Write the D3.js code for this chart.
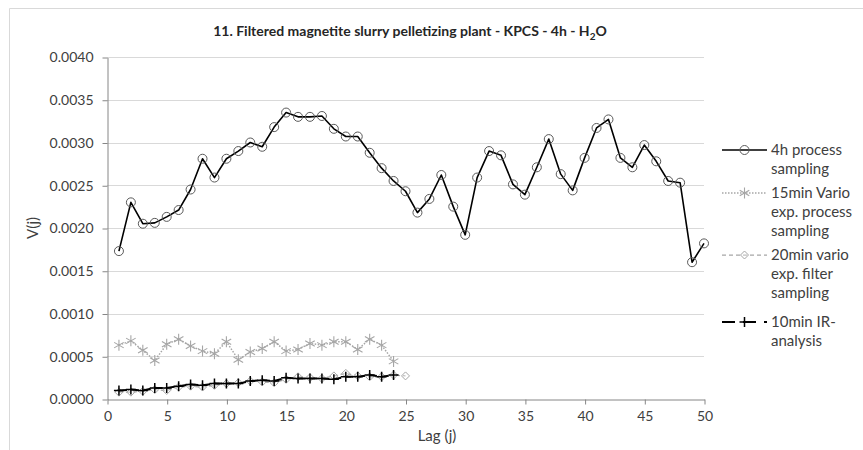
<!DOCTYPE html>
<html>
<head>
<meta charset="utf-8">
<script src="https://cdn.jsdelivr.net/npm/d3@7"></script>
<style>
  html, body { margin: 0; padding: 0; background: #fff; }
  svg { display: block; font-family: "Lato", "Open Sans", sans-serif; }
</style>
</head>
<body>
<svg id="chart" width="863" height="450"></svg>
<script>
// Lag values 1..50 and variogram values V(j)
const lags = d3.range(1, 51);

const process4h = [0.00173, 0.00230, 0.00205, 0.00206, 0.00213, 0.00221, 0.00245, 0.00281, 0.00259, 0.00281,
                   0.00290, 0.00300, 0.00295, 0.00318, 0.00335, 0.00330, 0.00330, 0.00331, 0.00316, 0.00307,
                   0.00307, 0.00288, 0.00270, 0.00255, 0.00243, 0.00218, 0.00234, 0.00262, 0.00225, 0.00192,
                   0.00259, 0.00290, 0.00285, 0.00251, 0.00239, 0.00271, 0.00304, 0.00263, 0.00244, 0.00282,
                   0.00317, 0.00327, 0.00282, 0.00271, 0.00297, 0.00278, 0.00255, 0.00253, 0.00160, 0.00182];

const vario15min = [0.00063, 0.00068, 0.00057, 0.00045, 0.00064, 0.00070, 0.00062, 0.00056, 0.00053, 0.00067,
                    0.00046, 0.00055, 0.00059, 0.00067, 0.00056, 0.00058, 0.00065, 0.00063, 0.00067, 0.00067,
                    0.00058, 0.00070, 0.00063, 0.00044];

const filter20min = [0.00008, 0.00008, 0.00009, 0.00011, 0.00010, 0.00014, 0.00015, 0.00014, 0.00016, 0.00018,
                     0.00019, 0.00021, 0.00020, 0.00019, 0.00023, 0.00026, 0.00025, 0.00024, 0.00027, 0.00030,
                     0.00027, 0.00026, 0.00026, 0.00028, 0.00027];

const ir10min = [0.00010, 0.00011, 0.00010, 0.00013, 0.00013, 0.00015, 0.00017, 0.00016, 0.00018, 0.00018,
                 0.00018, 0.00021, 0.00022, 0.00021, 0.00025, 0.00024, 0.00024, 0.00024, 0.00023, 0.00026,
                 0.00026, 0.00028, 0.00026, 0.00028];

const seriesNames = [["4h process", "sampling"],
                     ["15min Vario", "exp. process", "sampling"],
                     ["20min vario", "exp. filter", "sampling"],
                     ["10min IR-", "analysis"]];

const xTicks = d3.range(0, 51, 5);
const yTicks = d3.range(0, 9).map(i => i * 0.0005);

const svg = d3.select("#chart");

// Chart frame (only top and left edges fall inside the canvas)
svg.append("path")
  .attr("d", "M9.5,450 V8.5 H863")
  .attr("fill", "none").attr("stroke", "#d9d9d9").attr("stroke-width", 1);

const x = d3.scaleLinear().domain([0, 50]).range([107, 704]);
const y = d3.scaleLinear().domain([0, 0.004]).range([399, 57]);

// Horizontal gridlines
svg.append("g").selectAll("line")
  .data(yTicks.filter(t => t > 0))
  .join("line")
  .attr("x1", x(0)).attr("x2", x(50))
  .attr("y1", d => Math.round(y(d)) + 0.5).attr("y2", d => Math.round(y(d)) + 0.5)
  .attr("stroke", "#d9d9d9").attr("stroke-width", 1);

// Axes
const yAxis = svg.append("g")
  .attr("transform", `translate(${x(0) + 0.5},0.5)`)
  .call(d3.axisLeft(y).tickValues(yTicks).tickFormat(d3.format(".4f")).tickSize(5).tickPadding(9).tickSizeOuter(0));
const xAxis = svg.append("g")
  .attr("transform", `translate(0.5,${y(0) + 0.5})`)
  .call(d3.axisBottom(x).tickValues(xTicks).tickSize(5).tickPadding(7).tickSizeOuter(0));

[yAxis, xAxis].forEach(g => {
  g.select(".domain").attr("stroke", "#868686");
  g.selectAll(".tick line").attr("stroke", "#868686");
  g.selectAll(".tick text").attr("fill", "#404040").style("font-size", "14px").style("font-family", "Lato, sans-serif");
});

// Title
const title = svg.append("text")
  .attr("x", 410).attr("y", 36)
  .attr("text-anchor", "middle")
  .style("font-size", "14px").style("font-weight", "bold").attr("fill", "#262626");
title.append("tspan").text("11. Filtered magnetite slurry pelletizing plant - KPCS - 4h - H");
title.append("tspan").text("2").style("font-size", "10px").attr("dy", 4);
title.append("tspan").text("O").attr("dy", -4);

// Axis titles
svg.append("text")
  .attr("transform", `translate(38,${(y(0) + y(0.004)) / 2}) rotate(-90)`)
  .attr("text-anchor", "middle")
  .style("font-size", "15px").attr("fill", "#404040")
  .text("V(j)");
svg.append("text")
  .attr("x", 437).attr("y", 441)
  .attr("text-anchor", "middle")
  .style("font-size", "15px").attr("fill", "#404040")
  .text("Lag (j)");

// Marker painters
function circleMarker(g, cx, cy) {
  g.append("circle").attr("cx", cx).attr("cy", cy).attr("r", 4.5)
    .attr("fill", "none").attr("stroke", "#595959").attr("stroke-width", 1);
}
function starMarker(g, cx, cy) {
  const r = 5.5, c = "#a6a6a6";
  const p = `M${cx - r * 0.87},${cy - r * 0.5}L${cx + r * 0.87},${cy + r * 0.5}` +
            `M${cx - r * 0.87},${cy + r * 0.5}L${cx + r * 0.87},${cy - r * 0.5}` +
            `M${cx},${cy - r}L${cx},${cy + r}`;
  g.append("path").attr("d", p).attr("stroke", c).attr("stroke-width", 1.1).attr("fill", "none");
}
function diamondMarker(g, cx, cy) {
  const r = 4;
  g.append("path").attr("d", `M${cx},${cy - r}L${cx + r},${cy}L${cx},${cy + r}L${cx - r},${cy}Z`)
    .attr("fill", "#fff").attr("fill-opacity", 0.3).attr("stroke", "#a6a6a6").attr("stroke-width", 1);
}
function plusMarker(g, cx, cy) {
  const r = 5;
  g.append("path").attr("d", `M${cx - r},${cy}H${cx + r}M${cx},${cy - r}V${cy + r}`)
    .attr("stroke", "#000").attr("stroke-width", 1.5).attr("fill", "none");
}

const series = [
  { values: process4h, stroke: "#000", width: 1.6, dash: null, marker: circleMarker },
  { values: vario15min, stroke: "#a6a6a6", width: 1.5, dash: "1.5,1.5", marker: starMarker },
  { values: filter20min, stroke: "#a6a6a6", width: 1.25, dash: "4,3", marker: diamondMarker },
  { values: ir10min, stroke: "#000", width: 2, dash: "8,4", marker: plusMarker }
];

const line = d3.line().x(d => x(d[0])).y(d => y(d[1]));

// Draw the low-level series first, the 4h process line last
[1, 2, 3, 0].forEach(i => {
  const s = series[i];
  const pts = s.values.map((v, k) => [lags[k], v]);
  const g = svg.append("g");
  g.append("path").datum(pts).attr("d", line)
    .attr("fill", "none").attr("stroke", s.stroke).attr("stroke-width", s.width)
    .attr("stroke-dasharray", s.dash).attr("stroke-linejoin", "round");
  pts.forEach(p => s.marker(g, x(p[0]), y(p[1])));
});

// Legend
const legendY = [150, 193, 255, 322];
const lineH = 19;
series.forEach((s, i) => {
  const g = svg.append("g");
  const ly = legendY[i];
  g.append("line").attr("x1", 722).attr("x2", 767).attr("y1", ly).attr("y2", ly)
    .attr("stroke", s.stroke).attr("stroke-width", s.width)
    .attr("stroke-dasharray", i === 3 ? "13,8" : s.dash);
  s.marker(g, 744.5, ly);
  const t = g.append("text").attr("x", 771).attr("y", ly)
    .style("font-size", "15px").attr("fill", "#404040");
  seriesNames[i].forEach((name, k) => {
    t.append("tspan").attr("x", 771).attr("y", ly + k * lineH).attr("dy", "0.35em").text(name);
  });
});
</script>
</body>
</html>
